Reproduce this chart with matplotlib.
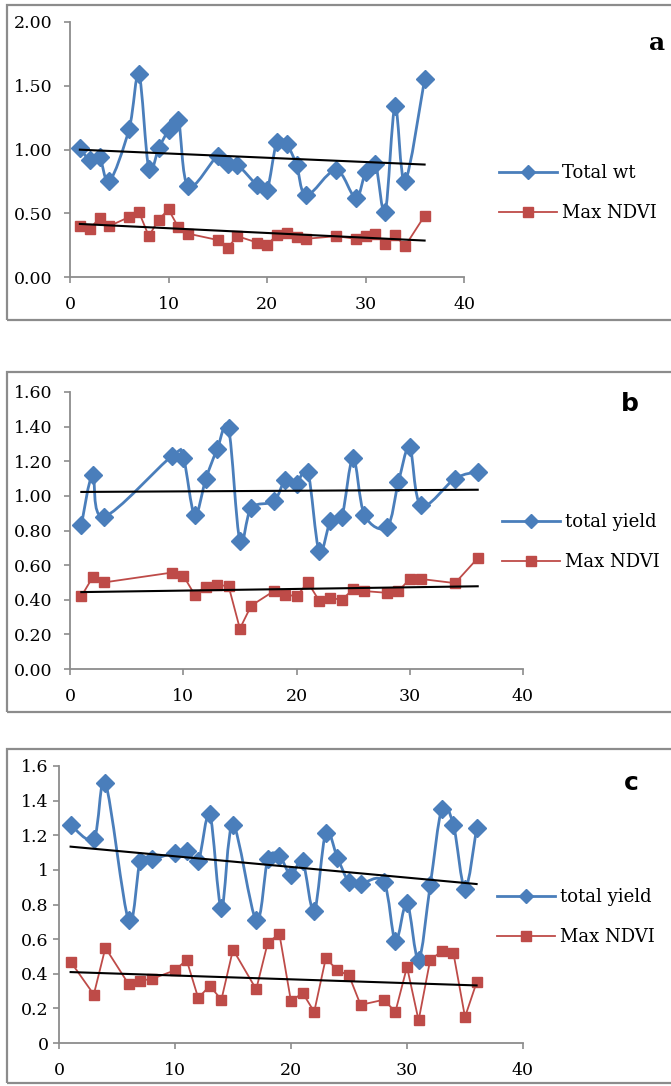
import matplotlib
matplotlib.use("Agg")
import matplotlib.pyplot as plt
import numpy as np
from matplotlib.path import Path
from matplotlib.patches import PathPatch, Rectangle
from matplotlib.lines import Line2D
from matplotlib.ticker import FormatStrFormatter, FuncFormatter

# panel a
a_x = [1, 2, 3, 4, 6, 7, 8, 9, 10, 11, 12, 15, 16, 17, 19, 20, 21, 22, 23, 24, 27, 29, 30, 31, 32, 33, 34, 36]
a_wt = [1.01, 0.92, 0.94, 0.75, 1.16, 1.59, 0.85, 1.01, 1.15, 1.23, 0.71, 0.95, 0.89, 0.88, 0.72, 0.68,
        1.06, 1.04, 0.88, 0.64, 0.84, 0.62, 0.82, 0.89, 0.51, 1.34, 0.75, 1.55]
a_ndvi = [0.40, 0.38, 0.46, 0.40, 0.47, 0.51, 0.32, 0.45, 0.53, 0.39, 0.34, 0.29, 0.23, 0.32, 0.27, 0.25,
          0.33, 0.345, 0.31, 0.30, 0.32, 0.30, 0.32, 0.34, 0.26, 0.33, 0.24, 0.48]

# panel b
b_x = [1, 2, 3, 9, 10, 11, 12, 13, 14, 15, 16, 18, 19, 20, 21, 22, 23, 24, 25, 26, 28, 29, 30, 31, 34, 36]
b_yield = [0.83, 1.12, 0.88, 1.23, 1.22, 0.89, 1.10, 1.27, 1.39, 0.74, 0.93, 0.97, 1.09, 1.07, 1.14, 0.68,
           0.855, 0.88, 1.22, 0.89, 0.82, 1.08, 1.28, 0.945, 1.10, 1.14]
b_ndvi = [0.42, 0.53, 0.50, 0.557, 0.54, 0.43, 0.476, 0.484, 0.48, 0.233, 0.366, 0.45, 0.43, 0.42, 0.50, 0.395,
          0.41, 0.40, 0.46, 0.45, 0.44, 0.45, 0.52, 0.52, 0.496, 0.64]

# panel c
c_x = [1, 3, 4, 6, 7, 8, 10, 11, 12, 13, 14, 15, 17, 18, 19, 20, 21, 22, 23, 24, 25, 26, 28, 29, 30, 31,
       32, 33, 34, 35, 36]
c_yield = [1.26, 1.18, 1.50, 0.71, 1.05, 1.06, 1.10, 1.11, 1.05, 1.32, 0.78, 1.26, 0.71, 1.06, 1.08, 0.97,
           1.05, 0.76, 1.215, 1.07, 0.93, 0.92, 0.93, 0.59, 0.81, 0.48, 0.91, 1.35, 1.26, 0.89, 1.24]
c_ndvi = [0.47, 0.28, 0.55, 0.34, 0.36, 0.37, 0.42, 0.48, 0.26, 0.33, 0.25, 0.54, 0.31, 0.58, 0.63, 0.24,
          0.29, 0.18, 0.49, 0.42, 0.39, 0.22, 0.25, 0.18, 0.44, 0.13, 0.48, 0.53, 0.52, 0.15, 0.35]

BLUE = "#4a7ebb"
RED = "#be4b48"
GREY = "#8c8c8c"
W, H = 671, 1086


def smooth_path(x, y):
    # excel style smoothed line: bezier segments through every point
    p = np.column_stack([x, y]).astype(float)
    n = len(p)
    verts = [p[0]]
    codes = [Path.MOVETO]
    for i in range(n - 1):
        p0 = p[i - 1] if i > 0 else p[i]
        p3 = p[i + 2] if i + 2 < n else p[i + 1]
        c1 = p[i] + (p[i + 1] - p0) / 6.0
        c2 = p[i + 1] - (p3 - p[i]) / 6.0
        verts += [c1, c2, p[i + 1]]
        codes += [Path.CURVE4] * 3
    return Path(verts, codes)


def panel(box, ax_px, x, s1, s2, name1, ymax, fmt, ypad, leg_px, letter, letter_px, letter_font):
    # grey border
    fig.patches.append(Rectangle((box[0] / W, 1 - box[3] / H), (box[2] - box[0]) / W, (box[3] - box[1]) / H,
                                 transform=fig.transFigure, fill=False, edgecolor=GREY, lw=1.6,
                                 clip_on=False))
    l, r, t, b = ax_px
    ax = fig.add_axes([l / W, 1 - b / H, (r - l) / W, (b - t) / H])
    ax.patch.set_alpha(0)

    ax.add_patch(PathPatch(smooth_path(x, s1), fill=False, edgecolor=BLUE, lw=2.0, zorder=2))
    ax.plot(x, s1, linestyle="none", marker="D", ms=9.5, color=BLUE, zorder=3)
    ax.plot(x, s2, color=RED, lw=1.3, marker="s", ms=7.5, zorder=3)

    xs = np.array([min(x), max(x)])
    for s in (s1, s2):
        k, c = np.polyfit(x, s, 1)
        ax.plot(xs, k * xs + c, color="black", lw=1.5, zorder=4)

    ax.set_xlim(0, 40)
    ax.set_ylim(0, ymax)
    ax.set_xticks([0, 10, 20, 30, 40])
    ax.set_yticks(np.arange(0, ymax + 0.001, 0.5 if ymax == 2 else 0.2))
    ax.yaxis.set_major_formatter(fmt)
    for sp in ("top", "right"):
        ax.spines[sp].set_visible(False)
    for sp in ("left", "bottom"):
        ax.spines[sp].set_color(GREY)
        ax.spines[sp].set_linewidth(1.3)
    ax.tick_params(axis="both", colors=GREY, labelcolor="black", length=4.5, width=1.2,
                   labelsize=12.5, direction="out")
    ax.tick_params(axis="y", pad=ypad)
    ax.tick_params(axis="x", pad=9)
    for lab in ax.get_xticklabels() + ax.get_yticklabels():
        lab.set_fontfamily("DejaVu Serif")

    h1 = Line2D([], [], color=BLUE, lw=2.0, marker="D", ms=7)
    h2 = Line2D([], [], color=RED, lw=1.3, marker="s", ms=7)
    fig.legend([h1, h2], [name1, "Max NDVI"], loc="center left",
               bbox_to_anchor=(leg_px[0] / W, 1 - leg_px[1] / H), frameon=False,
               prop={"family": "DejaVu Serif", "size": 13}, handlelength=3.2, handletextpad=0.3,
               labelspacing=1.2, borderpad=0, borderaxespad=0)
    fig.text(letter_px[0] / W, 1 - letter_px[1] / H, letter, ha="center", va="center",
             fontsize=18, fontweight="bold", family=letter_font)
    return ax


fig = plt.figure(figsize=(W / 100, H / 100), dpi=100)

two = FormatStrFormatter("%.2f")
gen = FuncFormatter(lambda v, pos: ("%.1f" % v).rstrip("0").rstrip("."))

panel((7, 5, 690, 320), (70, 464, 22, 277), a_x, a_wt, a_ndvi, "Total wt", 2.0, two, 8,
      (499, 193), "a", (657, 43), "DejaVu Serif")
panel((7, 372, 690, 712), (70, 523, 392, 669), b_x, b_yield, b_ndvi, "total yield", 1.6, two, 8,
      (502, 542), "b", (630, 404), "DejaVu Sans")
panel((7, 749, 690, 1083), (59, 523, 766, 1043), c_x, c_yield, c_ndvi, "total yield", 1.6, gen, 3,
      (497, 917), "c", (631, 783), "DejaVu Sans")

fig.savefig("out.png", dpi=100)
